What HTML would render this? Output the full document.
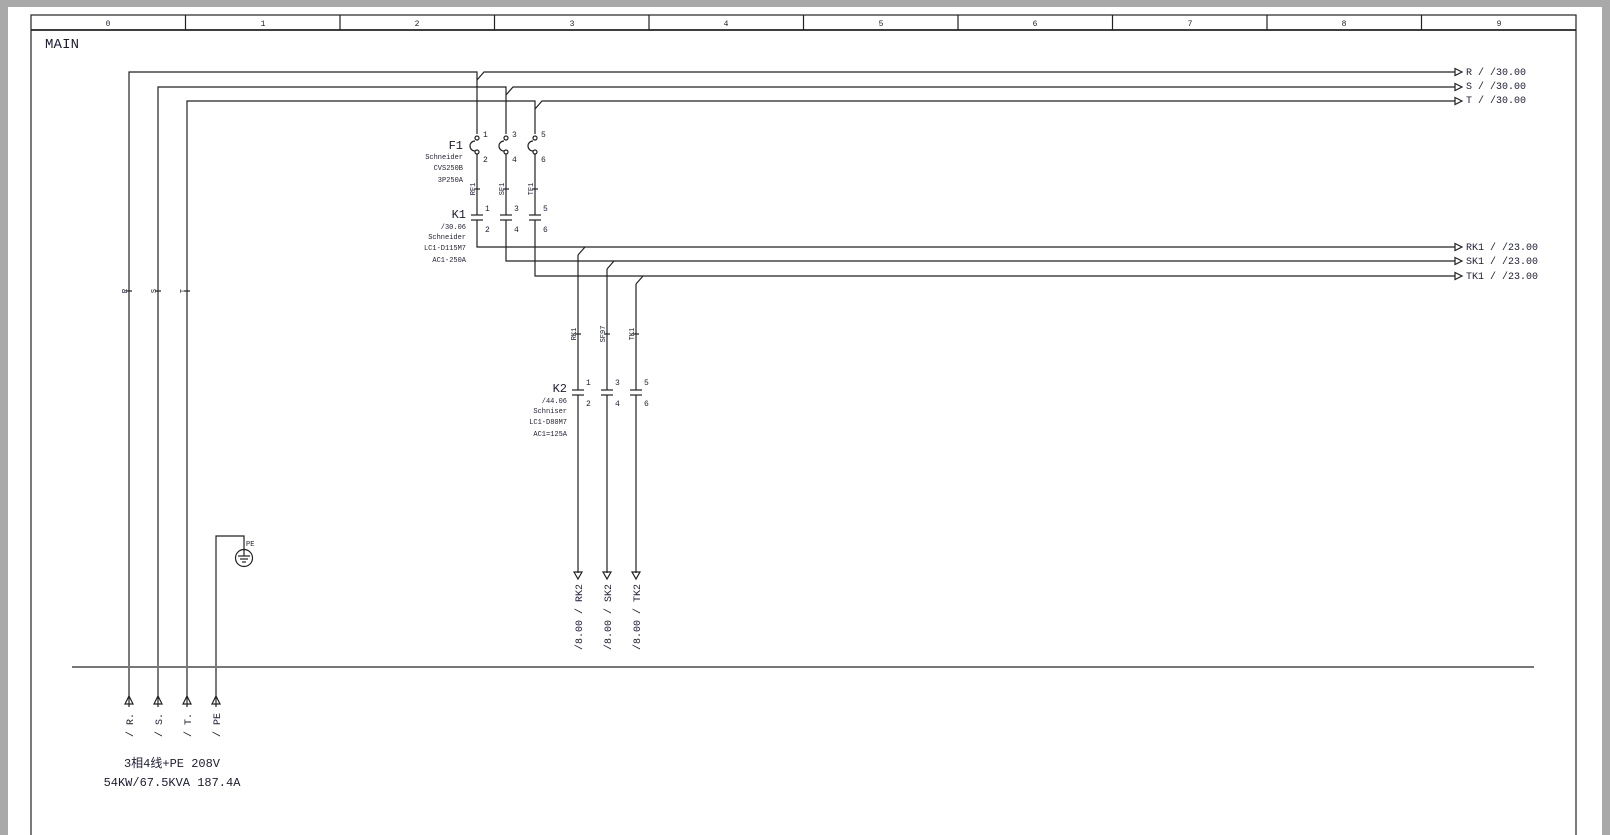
<!DOCTYPE html>
<html><head><meta charset="utf-8"><style>
html,body{margin:0;padding:0;background:#a9a9a9;}
svg{display:block}
text{font-family:"Liberation Mono","Noto Sans CJK SC",monospace;fill:#1c1c3a}
.s{font-size:8px}
.t{font-size:7px}
.m{font-size:10px}
.l{font-size:12px}
</style></head><body>
<svg width="1610" height="835" viewBox="0 0 1610 835" xmlns="http://www.w3.org/2000/svg">
<rect x="8" y="7" width="1594" height="830" fill="#fff"/>
<g fill="none" stroke="#222" stroke-width="1.2">
<rect x="31" y="15" width="1545" height="830"/>
<line x1="31" y1="30" x2="1576" y2="30" stroke-width="1.8"/>
<line x1="185.5" y1="15" x2="185.5" y2="30"/><line x1="340" y1="15" x2="340" y2="30"/>
<line x1="494.5" y1="15" x2="494.5" y2="30"/><line x1="649" y1="15" x2="649" y2="30"/>
<line x1="803.5" y1="15" x2="803.5" y2="30"/><line x1="958" y1="15" x2="958" y2="30"/>
<line x1="1112.5" y1="15" x2="1112.5" y2="30"/><line x1="1267" y1="15" x2="1267" y2="30"/>
<line x1="1421.5" y1="15" x2="1421.5" y2="30"/>
<polyline points="129,707 129,72 477,72 477,134"/>
<polyline points="158,707 158,87 506,87 506,134"/>
<polyline points="187,707 187,101 535,101 535,134"/>
<polyline points="477,80 484,72 1455,72"/>
<polyline points="506,95 513,87 1455,87"/>
<polyline points="535,109 542,101 1455,101"/>
<circle cx="477" cy="138" r="2"/><circle cx="477" cy="152" r="2"/>
<circle cx="506" cy="138" r="2"/><circle cx="506" cy="152" r="2"/>
<circle cx="535" cy="138" r="2"/><circle cx="535" cy="152" r="2"/>
<path d="M475,141 A5,5 0 0 0 475,151"/><path d="M504,141 A5,5 0 0 0 504,151"/><path d="M533,141 A5,5 0 0 0 533,151"/>
<line x1="477" y1="154" x2="477" y2="215"/><line x1="506" y1="154" x2="506" y2="215"/><line x1="535" y1="154" x2="535" y2="215"/>
<line x1="474" y1="189" x2="480" y2="189"/><line x1="503" y1="189" x2="509" y2="189"/><line x1="532" y1="189" x2="538" y2="189"/>
<line x1="471" y1="215" x2="483" y2="215"/><line x1="471" y1="220" x2="483" y2="220"/>
<line x1="500" y1="215" x2="512" y2="215"/><line x1="500" y1="220" x2="512" y2="220"/>
<line x1="529" y1="215" x2="541" y2="215"/><line x1="529" y1="220" x2="541" y2="220"/>
<polyline points="477,220 477,247 1455,247"/>
<polyline points="506,220 506,261 1455,261"/>
<polyline points="535,220 535,276 1455,276"/>
<polyline points="578,255 585,247"/><polyline points="607,269 614,261"/><polyline points="636,284 643,276"/>
<line x1="578" y1="255" x2="578" y2="390"/><line x1="607" y1="269" x2="607" y2="390"/><line x1="636" y1="284" x2="636" y2="390"/>
<line x1="575" y1="334" x2="581" y2="334"/><line x1="604" y1="334" x2="610" y2="334"/><line x1="633" y1="334" x2="639" y2="334"/>
<line x1="572" y1="390" x2="584" y2="390"/><line x1="572" y1="395" x2="584" y2="395"/>
<line x1="601" y1="390" x2="613" y2="390"/><line x1="601" y1="395" x2="613" y2="395"/>
<line x1="630" y1="390" x2="642" y2="390"/><line x1="630" y1="395" x2="642" y2="395"/>
<line x1="578" y1="395" x2="578" y2="573"/><line x1="607" y1="395" x2="607" y2="573"/><line x1="636" y1="395" x2="636" y2="573"/>
<path d="M574,572 L582,572 L578,579 Z"/><path d="M603,572 L611,572 L607,579 Z"/><path d="M632,572 L640,572 L636,579 Z"/>
<path d="M1455,68.5 L1462,72 L1455,75.5 Z"/><path d="M1455,83.5 L1462,87 L1455,90.5 Z"/><path d="M1455,97.5 L1462,101 L1455,104.5 Z"/>
<path d="M1455,243.5 L1462,247 L1455,250.5 Z"/><path d="M1455,257.5 L1462,261 L1455,264.5 Z"/><path d="M1455,272.5 L1462,276 L1455,279.5 Z"/>
<line x1="126" y1="291" x2="132" y2="291"/><line x1="155" y1="291" x2="161" y2="291"/><line x1="184" y1="291" x2="190" y2="291"/>
<polyline points="216,707 216,536 244,536 244,549"/>
<circle cx="244" cy="558" r="8.5"/>
<line x1="244" y1="549" x2="244" y2="556"/>
<line x1="238" y1="556" x2="250" y2="556"/><line x1="240" y1="559" x2="248" y2="559"/><line x1="242" y1="562" x2="246" y2="562"/>
<path d="M125,704 L133,704 L129,696 Z"/><path d="M154,704 L162,704 L158,696 Z"/><path d="M183,704 L191,704 L187,696 Z"/><path d="M212,704 L220,704 L216,696 Z"/>
</g>
<line x1="72" y1="667" x2="1534" y2="667" stroke="#777" stroke-width="2"/>
<g class="s" text-anchor="middle">
<text x="108" y="26">0</text><text x="263" y="26">1</text><text x="417" y="26">2</text><text x="572" y="26">3</text><text x="726" y="26">4</text>
<text x="881" y="26">5</text><text x="1035" y="26">6</text><text x="1190" y="26">7</text><text x="1344" y="26">8</text><text x="1499" y="26">9</text>
</g>
<text x="45" y="48" style="font-size:14px" textLength="34">MAIN</text>
<g class="s">
<text x="483" y="137">1</text><text x="512" y="137">3</text><text x="541" y="137">5</text>
<text x="483" y="162">2</text><text x="512" y="162">4</text><text x="541" y="162">6</text>
<text x="485" y="211">1</text><text x="514" y="211">3</text><text x="543" y="211">5</text>
<text x="485" y="232">2</text><text x="514" y="232">4</text><text x="543" y="232">6</text>
<text x="586" y="385">1</text><text x="615" y="385">3</text><text x="644" y="385">5</text>
<text x="586" y="406">2</text><text x="615" y="406">4</text><text x="644" y="406">6</text>
</g>
<g class="t" text-anchor="end">
<text x="463" y="159">Schneider</text><text x="463" y="170">CVS250B</text><text x="463" y="182">3P250A</text>
<text x="466" y="229">/30.06</text><text x="466" y="239">Schneider</text><text x="466" y="250">LC1-D115M7</text><text x="466" y="262">AC1-250A</text>
<text x="567" y="403">/44.06</text><text x="567" y="413">Schniser</text><text x="567" y="424">LC1-D80M7</text><text x="567" y="436">AC1=125A</text>
</g>
<g class="l" text-anchor="end"><text x="463" y="149">F1</text><text x="466" y="218">K1</text><text x="567" y="392">K2</text></g>
<g style="font-size:7px" text-anchor="middle">
<text transform="translate(475,189) rotate(-90)">RF1</text><text transform="translate(504,189) rotate(-90)">SF1</text><text transform="translate(533,189) rotate(-90)">TF1</text>
<text transform="translate(576,334) rotate(-90)">RK1</text><text transform="translate(605,334) rotate(-90)">SF97</text><text transform="translate(634,334) rotate(-90)">TK1</text>
<text transform="translate(127,291) rotate(-90)">R</text><text transform="translate(156,291) rotate(-90)">S</text><text transform="translate(185,291) rotate(-90)">T</text>
</g>
<text x="246" y="546" style="font-size:7px">PE</text>
<g class="m">
<text x="1466" y="75">R / /30.00</text><text x="1466" y="89">S / /30.00</text><text x="1466" y="103">T / /30.00</text>
<text x="1466" y="250">RK1 / /23.00</text><text x="1466" y="264">SK1 / /23.00</text><text x="1466" y="279">TK1 / /23.00</text>
</g>
<g class="m" text-anchor="end">
<text transform="translate(582,584) rotate(-90)">/8.00 / RK2</text>
<text transform="translate(611,584) rotate(-90)">/8.00 / SK2</text>
<text transform="translate(640,584) rotate(-90)">/8.00 / TK2</text>
<text transform="translate(133,713) rotate(-90)">/ R.</text>
<text transform="translate(162,713) rotate(-90)">/ S.</text>
<text transform="translate(191,713) rotate(-90)">/ T.</text>
<text transform="translate(220,713) rotate(-90)">/ PE</text>
</g>
<g style="font-size:12px" text-anchor="middle">
<text x="172" y="767">3相4线+PE 208V</text>
<text x="172" y="786">54KW/67.5KVA 187.4A</text>
</g>
</svg>
</body></html>
